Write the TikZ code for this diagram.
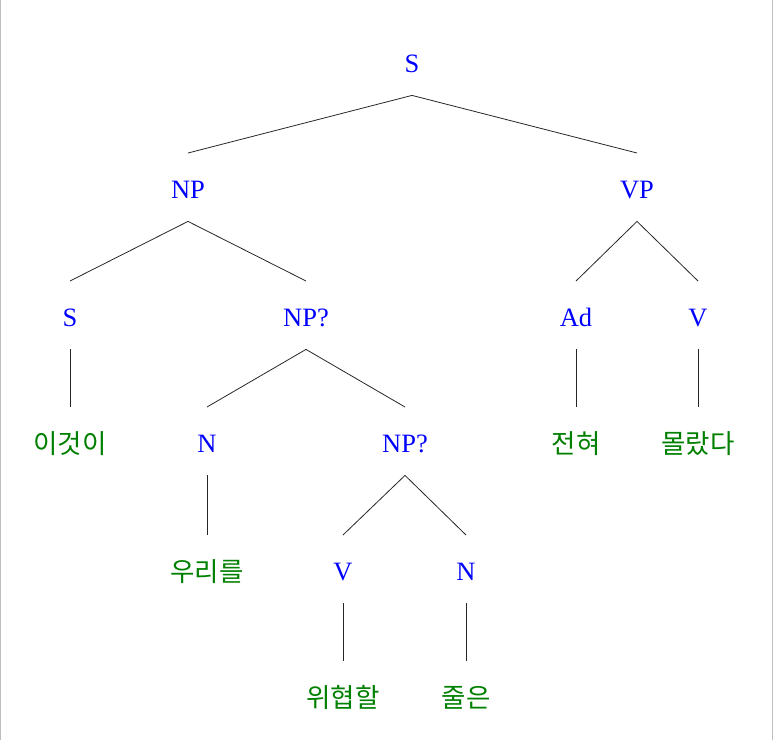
\documentclass[tikz,border=0pt]{standalone}
\usepackage{fontspec}
\setmainfont{Liberation Serif}
\newfontfamily\krfont{Noto Sans CJK KR}
\definecolor{leafgreen}{RGB}{0,128,0}
\definecolor{framegray}{RGB}{190,190,190}
\begin{document}
\begin{tikzpicture}[x=1pt,y=-1pt,
  cat/.style={inner sep=0pt, anchor=base, text height=44.8pt, text depth=23.2pt,
    font=\fontsize{26.5}{30}\selectfont, text=blue},
  leaf/.style={inner sep=0pt, anchor=base, text height=46pt, text depth=22pt,
    font=\krfont\fontsize{26.5}{30}\selectfont, text=leafgreen},
  edge/.style={draw=black!85, line width=0.8pt}]
\useasboundingbox (0,0) rectangle (773,740);
\draw[framegray, line width=1.2pt] (0.6,0) -- (0.6,740);
\draw[framegray, line width=1.2pt] (772.4,0) -- (772.4,740);
% level 0
\node[cat] (s0) at (412,72) {S};
% level 1
\node[cat] (np1) at (188,198) {NP};
\node[cat] (vp1) at (637,198) {VP};
% level 2
\node[cat] (s2) at (70,326) {S};
\node[cat] (npq2) at (306,326) {NP?};
\node[cat] (ad2) at (576,326) {Ad};
\node[cat] (v2) at (698,326) {V};
% level 3
\node[leaf] (w1) at (70,453) {이것이};
\node[cat] (n3) at (207,452) {N};
\node[cat] (npq3) at (405,452) {NP?};
\node[leaf] (w2) at (576,453) {전혀};
\node[leaf] (w3) at (698,453) {몰랐다};
% level 4
\node[leaf] (w4) at (207,581) {우리를};
\node[cat] (v4) at (343,580) {V};
\node[cat] (n4) at (466,580) {N};
% level 5
\node[leaf] (w5) at (343,707) {위협할};
\node[leaf] (w6) at (466,707) {줄은};
% edges
\draw[edge] (s0.south) -- (np1.north);
\draw[edge] (s0.south) -- (vp1.north);
\draw[edge] (np1.south) -- (s2.north);
\draw[edge] (np1.south) -- (npq2.north);
\draw[edge] (vp1.south) -- (ad2.north);
\draw[edge] (vp1.south) -- (v2.north);
\draw[edge] (s2.south) -- (w1.north);
\draw[edge] (npq2.south) -- (n3.north);
\draw[edge] (npq2.south) -- (npq3.north);
\draw[edge] (ad2.south) -- (w2.north);
\draw[edge] (v2.south) -- (w3.north);
\draw[edge] (n3.south) -- (w4.north);
\draw[edge] (npq3.south) -- (v4.north);
\draw[edge] (npq3.south) -- (n4.north);
\draw[edge] (v4.south) -- (w5.north);
\draw[edge] (n4.south) -- (w6.north);
\end{tikzpicture}
\end{document}
